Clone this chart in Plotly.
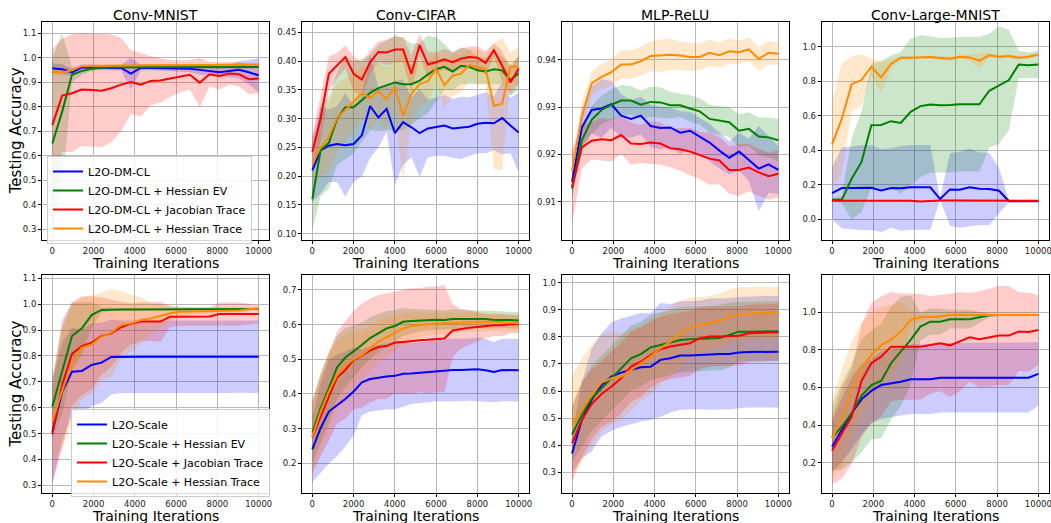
import numpy as np
import plotly.graph_objects as go

W, H = 1051, 523

# ---------------- x grids (training iterations) ----------------
iters22 = np.linspace(0, 10000, 22)
iters26 = np.arange(0, 10001, 400)
xtick_vals = [0, 2000, 4000, 6000, 8000, 10000]
xtick_text = ["0", "2000", "4000", "6000", "8000", "10000"]

titles = ["Conv-MNIST", "Conv-CIFAR", "MLP-ReLU", "Conv-Large-MNIST"]
names_top = ["L2O-DM-CL", "L2O-DM-CL + Hessian EV", "L2O-DM-CL + Jacobian Trace", "L2O-DM-CL + Hessian Trace"]
names_bot = ["L2O-Scale", "L2O-Scale + Hessian EV", "L2O-Scale + Jacobian Trace", "L2O-Scale + Hessian Trace"]
xlabel = "Training Iterations"
ylabel = "Testing Accuracy"

# ---------------- Top row: Conv-MNIST ----------------
top_mnist_base = [0.957, 0.953, 0.940, 0.960, 0.960, 0.960, 0.958, 0.958, 0.935, 0.958, 0.958, 0.957, 0.956, 0.955, 0.955, 0.950, 0.945, 0.940, 0.945, 0.950, 0.940, 0.928]
top_mnist_base_std = [0.02, 0.02, 0.015, 0.012, 0.012, 0.01, 0.01, 0.012, 0.065, 0.012, 0.01, 0.01, 0.011, 0.013, 0.015, 0.02, 0.02, 0.02, 0.025, 0.035, 0.05, 0.07]
top_mnist_ev = [0.650, 0.780, 0.930, 0.945, 0.955, 0.960, 0.961, 0.961, 0.962, 0.962, 0.962, 0.962, 0.962, 0.962, 0.962, 0.962, 0.962, 0.962, 0.962, 0.962, 0.962, 0.962]
top_mnist_ev_std = [0.35, 0.32, 0.03, 0.015, 0.01, 0.007, 0.006, 0.006, 0.006, 0.006, 0.006, 0.006, 0.006, 0.006, 0.006, 0.006, 0.006, 0.006, 0.006, 0.006, 0.006, 0.006]
top_mnist_jac = [0.725, 0.845, 0.855, 0.870, 0.868, 0.865, 0.875, 0.890, 0.900, 0.890, 0.905, 0.907, 0.915, 0.923, 0.930, 0.898, 0.932, 0.925, 0.935, 0.932, 0.912, 0.915]
top_mnist_jac_std = [0.31, 0.23, 0.24, 0.23, 0.23, 0.23, 0.22, 0.19, 0.13, 0.13, 0.10, 0.09, 0.075, 0.065, 0.06, 0.10, 0.05, 0.055, 0.045, 0.05, 0.06, 0.06]
top_mnist_htr = [0.942, 0.940, 0.948, 0.965, 0.966, 0.967, 0.968, 0.968, 0.969, 0.969, 0.969, 0.969, 0.970, 0.970, 0.970, 0.970, 0.970, 0.971, 0.971, 0.971, 0.972, 0.972]
top_mnist_htr_std = [0.016, 0.015, 0.012, 0.006, 0.006, 0.005, 0.005, 0.005, 0.005, 0.005, 0.005, 0.005, 0.005, 0.005, 0.005, 0.005, 0.005, 0.005, 0.005, 0.005, 0.005, 0.005]

# ---------------- Top row: Conv-CIFAR ----------------
top_cifar_base = [0.210, 0.245, 0.253, 0.256, 0.254, 0.256, 0.271, 0.322, 0.302, 0.317, 0.275, 0.294, 0.285, 0.275, 0.283, 0.286, 0.288, 0.283, 0.284, 0.286, 0.291, 0.293, 0.292, 0.301, 0.288, 0.276]
top_cifar_base_std = [0.055, 0.075, 0.063, 0.066, 0.09, 0.066, 0.071, 0.09, 0.052, 0.04, 0.09, 0.074, 0.052, 0.076, 0.05, 0.051, 0.053, 0.051, 0.054, 0.051, 0.051, 0.053, 0.047, 0.063, 0.048, 0.069]
top_cifar_ev = [0.160, 0.245, 0.258, 0.300, 0.320, 0.320, 0.332, 0.345, 0.353, 0.358, 0.363, 0.360, 0.360, 0.366, 0.377, 0.386, 0.390, 0.382, 0.392, 0.390, 0.384, 0.382, 0.386, 0.384, 0.367, 0.379]
top_cifar_ev_std = [0.055, 0.08, 0.08, 0.08, 0.09, 0.08, 0.072, 0.065, 0.075, 0.078, 0.083, 0.08, 0.07, 0.066, 0.067, 0.056, 0.04, 0.032, 0.032, 0.03, 0.024, 0.022, 0.026, 0.024, 0.027, 0.029]
top_cifar_jac = [0.242, 0.300, 0.378, 0.392, 0.407, 0.378, 0.368, 0.398, 0.416, 0.415, 0.420, 0.420, 0.378, 0.428, 0.394, 0.398, 0.403, 0.398, 0.404, 0.407, 0.406, 0.397, 0.419, 0.392, 0.363, 0.387]
top_cifar_jac_std = [0.03, 0.04, 0.03, 0.022, 0.02, 0.03, 0.03, 0.02, 0.018, 0.022, 0.022, 0.022, 0.032, 0.02, 0.022, 0.018, 0.018, 0.018, 0.018, 0.018, 0.02, 0.02, 0.012, 0.026, 0.022, 0.025]
top_cifar_htr = [0.222, 0.250, 0.268, 0.302, 0.315, 0.330, 0.344, 0.336, 0.348, 0.334, 0.356, 0.305, 0.343, 0.360, 0.365, 0.387, 0.358, 0.375, 0.378, 0.393, 0.390, 0.386, 0.322, 0.326, 0.391, 0.390]
top_cifar_htr_std = [0.04, 0.05, 0.06, 0.06, 0.055, 0.05, 0.045, 0.055, 0.05, 0.055, 0.045, 0.115, 0.05, 0.04, 0.035, 0.027, 0.04, 0.035, 0.032, 0.028, 0.03, 0.026, 0.11, 0.115, 0.025, 0.035]

# ---------------- Top row: MLP-ReLU ----------------
top_mlp_base = [0.9142, 0.9257, 0.9294, 0.9297, 0.9306, 0.9282, 0.9275, 0.9282, 0.9260, 0.9256, 0.9257, 0.9246, 0.9250, 0.9238, 0.9225, 0.9208, 0.9193, 0.9206, 0.9188, 0.9170, 0.9179, 0.9167]
top_mlp_base_std = [0.003, 0.004, 0.005, 0.0062, 0.005, 0.0045, 0.004, 0.004, 0.0045, 0.0045, 0.0042, 0.0045, 0.004, 0.004, 0.004, 0.0038, 0.0035, 0.004, 0.0045, 0.009, 0.006, 0.005]
top_mlp_ev = [0.9128, 0.9230, 0.9273, 0.9294, 0.9305, 0.9314, 0.9314, 0.9305, 0.9311, 0.9310, 0.9304, 0.9304, 0.9297, 0.9291, 0.9275, 0.9272, 0.9268, 0.9250, 0.9254, 0.9238, 0.9236, 0.9230]
top_mlp_ev_std = [0.002, 0.0025, 0.003, 0.003, 0.0032, 0.0033, 0.003, 0.003, 0.0032, 0.0032, 0.0028, 0.0025, 0.0028, 0.0028, 0.003, 0.003, 0.0032, 0.0035, 0.0035, 0.004, 0.0042, 0.0045]
top_mlp_jac = [0.9131, 0.9215, 0.9229, 0.9232, 0.9230, 0.9241, 0.9223, 0.9222, 0.9225, 0.9223, 0.9213, 0.9211, 0.9206, 0.9198, 0.9191, 0.9187, 0.9167, 0.9167, 0.9172, 0.9162, 0.9154, 0.9159]
top_mlp_jac_std = [0.0078, 0.0045, 0.004, 0.0045, 0.0045, 0.004, 0.0045, 0.004, 0.0045, 0.0045, 0.004, 0.0045, 0.005, 0.005, 0.0055, 0.005, 0.005, 0.0055, 0.005, 0.005, 0.005, 0.005]
top_mlp_htr = [0.9165, 0.9280, 0.9350, 0.9364, 0.9374, 0.9390, 0.9390, 0.9397, 0.9408, 0.9409, 0.9411, 0.9409, 0.9406, 0.9406, 0.9415, 0.9410, 0.9418, 0.9416, 0.9422, 0.9402, 0.9415, 0.9413]
top_mlp_htr_std = [0.003, 0.003, 0.0025, 0.0027, 0.0028, 0.003, 0.003, 0.003, 0.0032, 0.0034, 0.0033, 0.003, 0.003, 0.0028, 0.0028, 0.0027, 0.0027, 0.0025, 0.0025, 0.0025, 0.0025, 0.0024]

# ---------------- Top row: Conv-Large-MNIST ----------------
top_large_base = [0.153, 0.182, 0.182, 0.184, 0.184, 0.168, 0.182, 0.180, 0.186, 0.186, 0.186, 0.118, 0.174, 0.172, 0.186, 0.178, 0.176, 0.166, 0.106, 0.105, 0.105, 0.105]
top_large_base_std = [0.15, 0.235, 0.24, 0.245, 0.245, 0.24, 0.23, 0.245, 0.245, 0.245, 0.245, 0.005, 0.21, 0.22, 0.225, 0.21, 0.21, 0.13, 0.005, 0.003, 0.003, 0.003]
top_large_ev = [0.114, 0.114, 0.236, 0.333, 0.545, 0.547, 0.569, 0.559, 0.623, 0.656, 0.665, 0.661, 0.662, 0.667, 0.667, 0.667, 0.745, 0.778, 0.807, 0.897, 0.892, 0.897]
top_large_ev_std = [0.01, 0.02, 0.236, 0.29, 0.355, 0.37, 0.38, 0.41, 0.425, 0.41, 0.395, 0.39, 0.39, 0.39, 0.39, 0.39, 0.33, 0.34, 0.29, 0.08, 0.075, 0.08]
top_large_jac = [0.108, 0.108, 0.108, 0.110, 0.110, 0.110, 0.109, 0.109, 0.108, 0.104, 0.109, 0.110, 0.110, 0.110, 0.108, 0.108, 0.109, 0.108, 0.109, 0.108, 0.108, 0.108]
top_large_jac_std = [0.005] * 22
top_large_htr = [0.435, 0.584, 0.783, 0.807, 0.884, 0.822, 0.900, 0.936, 0.936, 0.937, 0.940, 0.935, 0.930, 0.942, 0.938, 0.919, 0.951, 0.942, 0.946, 0.936, 0.942, 0.955]
top_large_htr_std = [0.25, 0.32, 0.16, 0.15, 0.05, 0.09, 0.03, 0.01, 0.01, 0.01, 0.01, 0.012, 0.012, 0.012, 0.015, 0.045, 0.015, 0.01, 0.01, 0.01, 0.01, 0.01]

# ---------------- Bottom row: Conv-MNIST ----------------
bot_mnist_base = [0.507, 0.662, 0.739, 0.742, 0.765, 0.774, 0.796, 0.797, 0.797, 0.797, 0.797, 0.797, 0.797, 0.797, 0.797, 0.797, 0.797, 0.797, 0.797, 0.798, 0.798, 0.797]
bot_mnist_base_std = [0.2, 0.19, 0.17, 0.16, 0.16, 0.155, 0.145, 0.14, 0.14, 0.14, 0.14, 0.14, 0.14, 0.14, 0.14, 0.14, 0.14, 0.14, 0.14, 0.14, 0.14, 0.14]
bot_mnist_ev = [0.604, 0.746, 0.877, 0.907, 0.958, 0.978, 0.980, 0.980, 0.980, 0.980, 0.980, 0.980, 0.981, 0.981, 0.981, 0.981, 0.981, 0.981, 0.982, 0.982, 0.982, 0.982]
bot_mnist_ev_std = [0.12, 0.17, 0.13, 0.1, 0.05, 0.012, 0.006, 0.005, 0.005, 0.005, 0.005, 0.005, 0.005, 0.005, 0.005, 0.005, 0.005, 0.005, 0.005, 0.005, 0.005, 0.005]
bot_mnist_jac = [0.497, 0.688, 0.808, 0.838, 0.851, 0.877, 0.887, 0.911, 0.924, 0.933, 0.933, 0.933, 0.952, 0.952, 0.952, 0.952, 0.953, 0.962, 0.962, 0.962, 0.962, 0.962]
bot_mnist_jac_std = [0.19, 0.25, 0.2, 0.19, 0.18, 0.15, 0.13, 0.1, 0.08, 0.075, 0.075, 0.078, 0.04, 0.035, 0.035, 0.035, 0.035, 0.045, 0.045, 0.045, 0.04, 0.035]
bot_mnist_htr = [0.546, 0.666, 0.765, 0.832, 0.844, 0.875, 0.890, 0.920, 0.926, 0.939, 0.945, 0.954, 0.965, 0.971, 0.972, 0.972, 0.972, 0.974, 0.975, 0.976, 0.981, 0.983]
bot_mnist_htr_std = [0.16, 0.22, 0.23, 0.2, 0.19, 0.17, 0.17, 0.13, 0.11, 0.09, 0.06, 0.045, 0.03, 0.02, 0.015, 0.012, 0.012, 0.01, 0.01, 0.008, 0.006, 0.006]

# ---------------- Bottom row: Conv-CIFAR ----------------
bot_cifar_base = [0.240, 0.301, 0.349, 0.367, 0.385, 0.407, 0.433, 0.443, 0.447, 0.450, 0.452, 0.458, 0.459, 0.461, 0.464, 0.466, 0.469, 0.469, 0.469, 0.470, 0.471, 0.468, 0.463, 0.469, 0.469, 0.468]
bot_cifar_base_std = [0.095, 0.13, 0.15, 0.147, 0.137, 0.127, 0.095, 0.094, 0.095, 0.095, 0.096, 0.095, 0.088, 0.088, 0.088, 0.088, 0.09, 0.09, 0.09, 0.09, 0.092, 0.09, 0.087, 0.09, 0.09, 0.09]
bot_cifar_ev = [0.288, 0.359, 0.416, 0.477, 0.505, 0.522, 0.541, 0.561, 0.575, 0.589, 0.596, 0.608, 0.610, 0.612, 0.613, 0.614, 0.613, 0.616, 0.616, 0.616, 0.616, 0.616, 0.613, 0.614, 0.613, 0.612]
bot_cifar_ev_std = [0.09, 0.1, 0.1, 0.09, 0.085, 0.075, 0.065, 0.06, 0.055, 0.05, 0.045, 0.04, 0.035, 0.032, 0.03, 0.03, 0.028, 0.028, 0.027, 0.026, 0.025, 0.025, 0.025, 0.024, 0.024, 0.024]
bot_cifar_jac = [0.275, 0.335, 0.392, 0.447, 0.469, 0.498, 0.510, 0.525, 0.535, 0.538, 0.548, 0.550, 0.553, 0.555, 0.556, 0.557, 0.560, 0.583, 0.588, 0.591, 0.593, 0.596, 0.598, 0.598, 0.601, 0.601]
bot_cifar_jac_std = [0.105, 0.115, 0.128, 0.133, 0.141, 0.142, 0.15, 0.15, 0.15, 0.152, 0.147, 0.15, 0.152, 0.15, 0.154, 0.153, 0.155, 0.077, 0.057, 0.05, 0.042, 0.034, 0.032, 0.032, 0.026, 0.026]
bot_cifar_htr = [0.277, 0.349, 0.407, 0.455, 0.481, 0.500, 0.512, 0.532, 0.551, 0.563, 0.575, 0.589, 0.596, 0.599, 0.601, 0.603, 0.604, 0.605, 0.606, 0.608, 0.608, 0.608, 0.608, 0.607, 0.606, 0.604]
bot_cifar_htr_std = [0.1, 0.11, 0.11, 0.1, 0.09, 0.08, 0.07, 0.065, 0.06, 0.055, 0.05, 0.045, 0.04, 0.035, 0.033, 0.032, 0.03, 0.03, 0.028, 0.028, 0.027, 0.027, 0.026, 0.025, 0.025, 0.025]

# ---------------- Bottom row: MLP-ReLU ----------------
bot_mlp_base = [0.370, 0.493, 0.567, 0.622, 0.653, 0.668, 0.678, 0.688, 0.690, 0.715, 0.721, 0.731, 0.731, 0.733, 0.736, 0.737, 0.737, 0.742, 0.744, 0.745, 0.745, 0.745]
bot_mlp_base_std = [0.07, 0.14, 0.19, 0.19, 0.2, 0.2, 0.2, 0.2, 0.197, 0.21, 0.2, 0.2, 0.2, 0.2, 0.205, 0.205, 0.205, 0.205, 0.205, 0.205, 0.206, 0.206]
bot_mlp_ev = [0.440, 0.512, 0.573, 0.610, 0.647, 0.684, 0.721, 0.736, 0.761, 0.770, 0.778, 0.788, 0.791, 0.793, 0.796, 0.796, 0.807, 0.819, 0.819, 0.820, 0.820, 0.821]
bot_mlp_ev_std = [0.1, 0.12, 0.12, 0.12, 0.12, 0.12, 0.12, 0.12, 0.12, 0.12, 0.12, 0.12, 0.12, 0.12, 0.12, 0.12, 0.12, 0.11, 0.11, 0.11, 0.11, 0.11]
bot_mlp_jac = [0.407, 0.493, 0.552, 0.589, 0.616, 0.647, 0.690, 0.708, 0.733, 0.754, 0.764, 0.770, 0.776, 0.795, 0.801, 0.801, 0.803, 0.804, 0.813, 0.815, 0.815, 0.817]
bot_mlp_jac_std = [0.14, 0.14, 0.13, 0.12, 0.13, 0.13, 0.13, 0.13, 0.12, 0.12, 0.12, 0.12, 0.12, 0.115, 0.11, 0.11, 0.11, 0.11, 0.105, 0.105, 0.105, 0.105]
bot_mlp_htr = [0.475, 0.530, 0.585, 0.631, 0.647, 0.653, 0.678, 0.702, 0.727, 0.758, 0.782, 0.813, 0.834, 0.843, 0.850, 0.859, 0.875, 0.883, 0.886, 0.887, 0.887, 0.889]
bot_mlp_htr_std = [0.185, 0.19, 0.185, 0.18, 0.17, 0.16, 0.15, 0.14, 0.14, 0.13, 0.13, 0.12, 0.11, 0.105, 0.1, 0.1, 0.1, 0.1, 0.098, 0.097, 0.096, 0.096]

# ---------------- Bottom row: Conv-Large-MNIST ----------------
bot_large_base = [0.285, 0.374, 0.463, 0.537, 0.582, 0.613, 0.622, 0.631, 0.644, 0.644, 0.644, 0.652, 0.652, 0.652, 0.652, 0.652, 0.652, 0.652, 0.652, 0.652, 0.652, 0.672]
bot_large_base_std = [0.135, 0.17, 0.19, 0.187, 0.17, 0.18, 0.18, 0.18, 0.185, 0.185, 0.185, 0.185, 0.185, 0.185, 0.185, 0.185, 0.185, 0.185, 0.185, 0.185, 0.185, 0.168]
bot_large_ev = [0.335, 0.392, 0.463, 0.555, 0.613, 0.635, 0.729, 0.791, 0.853, 0.924, 0.950, 0.950, 0.963, 0.963, 0.963, 0.973, 0.984, 0.986, 0.986, 0.986, 0.986, 0.986]
bot_large_ev_std = [0.175, 0.23, 0.26, 0.3, 0.29, 0.305, 0.3, 0.29, 0.237, 0.075, 0.07, 0.07, 0.05, 0.05, 0.05, 0.03, 0.01, 0.006, 0.005, 0.005, 0.005, 0.005]
bot_large_jac = [0.264, 0.356, 0.445, 0.635, 0.729, 0.764, 0.817, 0.817, 0.817, 0.817, 0.826, 0.835, 0.824, 0.844, 0.867, 0.856, 0.865, 0.876, 0.876, 0.897, 0.895, 0.906]
bot_large_jac_std = [0.18, 0.24, 0.25, 0.3, 0.32, 0.32, 0.29, 0.283, 0.283, 0.28, 0.26, 0.255, 0.274, 0.264, 0.235, 0.256, 0.26, 0.264, 0.264, 0.21, 0.21, 0.185]
bot_large_htr = [0.330, 0.436, 0.587, 0.702, 0.773, 0.826, 0.853, 0.897, 0.959, 0.973, 0.975, 0.977, 0.986, 0.986, 0.986, 0.986, 0.986, 0.986, 0.986, 0.986, 0.986, 0.986]
bot_large_htr_std = [0.21, 0.26, 0.26, 0.24, 0.225, 0.205, 0.185, 0.16, 0.04, 0.015, 0.012, 0.01, 0.006, 0.006, 0.005, 0.005, 0.005, 0.005, 0.005, 0.005, 0.005, 0.005]

# ---------------- styling ----------------
line_colors = ["#0000ff", "#008000", "#ff0000", "#ff8c00"]
fill_colors = ["rgba(0,0,255,0.2)", "rgba(0,128,0,0.2)", "rgba(255,0,0,0.2)", "rgba(255,140,0,0.2)"]
FONT = "DejaVu Sans"

col_left = [42, 302, 561.7, 821.7]
col_width = 227
row_top = [22, 275]
row_bottom = [239.5, 493]

panels = [
    dict(x=iters22, s=[(top_mnist_base, top_mnist_base_std), (top_mnist_ev, top_mnist_ev_std), (top_mnist_jac, top_mnist_jac_std), (top_mnist_htr, top_mnist_htr_std)],
         yr=[0.259, 1.145], tick0=0.3, dtick=0.1, fmt=".1f"),
    dict(x=iters26, s=[(top_cifar_base, top_cifar_base_std), (top_cifar_ev, top_cifar_ev_std), (top_cifar_jac, top_cifar_jac_std), (top_cifar_htr, top_cifar_htr_std)],
         yr=[0.090, 0.468], tick0=0.10, dtick=0.05, fmt=".2f"),
    dict(x=iters22, s=[(top_mlp_base, top_mlp_base_std), (top_mlp_ev, top_mlp_ev_std), (top_mlp_jac, top_mlp_jac_std), (top_mlp_htr, top_mlp_htr_std)],
         yr=[0.902, 0.948], tick0=0.91, dtick=0.01, fmt=".2f"),
    dict(x=iters22, s=[(top_large_base, top_large_base_std), (top_large_ev, top_large_ev_std), (top_large_jac, top_large_jac_std), (top_large_htr, top_large_htr_std)],
         yr=[-0.116, 1.143], tick0=0.0, dtick=0.2, fmt=".1f"),
    dict(x=iters22, s=[(bot_mnist_base, bot_mnist_base_std), (bot_mnist_ev, bot_mnist_ev_std), (bot_mnist_jac, bot_mnist_jac_std), (bot_mnist_htr, bot_mnist_htr_std)],
         yr=[0.270, 1.113], tick0=0.3, dtick=0.1, fmt=".1f"),
    dict(x=iters26, s=[(bot_cifar_base, bot_cifar_base_std), (bot_cifar_ev, bot_cifar_ev_std), (bot_cifar_jac, bot_cifar_jac_std), (bot_cifar_htr, bot_cifar_htr_std)],
         yr=[0.114, 0.743], tick0=0.2, dtick=0.1, fmt=".1f"),
    dict(x=iters22, s=[(bot_mlp_base, bot_mlp_base_std), (bot_mlp_ev, bot_mlp_ev_std), (bot_mlp_jac, bot_mlp_jac_std), (bot_mlp_htr, bot_mlp_htr_std)],
         yr=[0.224, 1.028], tick0=0.3, dtick=0.1, fmt=".1f"),
    dict(x=iters22, s=[(bot_large_base, bot_large_base_std), (bot_large_ev, bot_large_ev_std), (bot_large_jac, bot_large_jac_std), (bot_large_htr, bot_large_htr_std)],
         yr=[0.039, 1.198], tick0=0.2, dtick=0.2, fmt=".1f"),
]

fig = go.Figure()
annotations = []
layout = dict(
    width=W, height=H, margin=dict(l=0, r=0, t=0, b=0),
    paper_bgcolor="white", plot_bgcolor="white",
    font=dict(family=FONT, color="black"),
)

for i, p in enumerate(panels):
    row, col = divmod(i, 4)
    k = "" if i == 0 else str(i + 1)
    xa, ya = "x" + k, "y" + k
    x = np.asarray(p["x"], dtype=float)
    # bands (drawn below all lines, like matplotlib's zorder)
    for j, (m, s) in enumerate(p["s"]):
        m = np.asarray(m); s = np.asarray(s)
        fig.add_trace(go.Scatter(
            x=np.concatenate([x, x[::-1]]), y=np.concatenate([m + s, (m - s)[::-1]]),
            fill="toself", fillcolor=fill_colors[j], line=dict(width=0), mode="lines",
            hoverinfo="skip", showlegend=False, xaxis=xa, yaxis=ya))
    names = names_top if row == 0 else names_bot
    for j, (m, s) in enumerate(p["s"]):
        fig.add_trace(go.Scatter(
            x=x, y=m, mode="lines", line=dict(color=line_colors[j], width=2),
            name=names[j], showlegend=(col == 0), legend=("legend" if row == 0 else "legend2"),
            xaxis=xa, yaxis=ya))

    l = col_left[col]
    xdom = [l / W, (l + col_width) / W]
    ydom = [1 - row_bottom[row] / H, 1 - row_top[row] / H]
    axis_common = dict(showline=True, mirror=True, linecolor="black", linewidth=1,
                       ticks="outside", ticklen=3, tickwidth=1, tickcolor="black",
                       showgrid=True, gridcolor="#b8b8b8", gridwidth=1, zeroline=False,
                       tickfont=dict(family=FONT, size=8.5, color="#1a1a1a"), automargin=False,
                       ticklabeloverflow="allow")
    layout["xaxis" + k] = dict(axis_common, domain=xdom, range=[-500, 10500], anchor=ya,
                               tickmode="array", tickvals=xtick_vals, ticktext=xtick_text)
    layout["yaxis" + k] = dict(axis_common, domain=ydom, range=p["yr"], anchor=xa,
                               tick0=p["tick0"], dtick=p["dtick"], tickformat=p["fmt"])
    xc = (xdom[0] + xdom[1]) / 2
    # x-axis label
    annotations.append(dict(text=xlabel, x=xc, y=1 - (row_bottom[row] + 23) / H, xref="paper", yref="paper",
                            xanchor="center", yanchor="middle", showarrow=False,
                            font=dict(family=FONT, size=14, color="black")))
    # y-axis label on first column
    if col == 0:
        annotations.append(dict(text=ylabel, x=15.5 / W, y=(ydom[0] + ydom[1]) / 2, xref="paper", yref="paper",
                                xanchor="center", yanchor="middle", textangle=-90, showarrow=False,
                                font=dict(family=FONT, size=15, color="black")))
    # column titles on the top row
    if row == 0:
        annotations.append(dict(text=titles[col], x=xc, y=1 - 15 / H, xref="paper", yref="paper",
                                xanchor="center", yanchor="middle", showarrow=False,
                                font=dict(family=FONT, size=14, color="black")))

layout["annotations"] = annotations
legend_common = dict(xanchor="left", yanchor="top", bgcolor="rgba(255,255,255,0.85)",
                     bordercolor="#cccccc", borderwidth=1, font=dict(family=FONT, size=11, color="black"),
                     xref="paper", yref="paper")
layout["legend"] = dict(legend_common, x=47 / W, y=1 - 156 / H)
layout["legend2"] = dict(legend_common, x=71 / W, y=1 - 409 / H)

fig.update_layout(**layout)
fig.write_html("out.html")
